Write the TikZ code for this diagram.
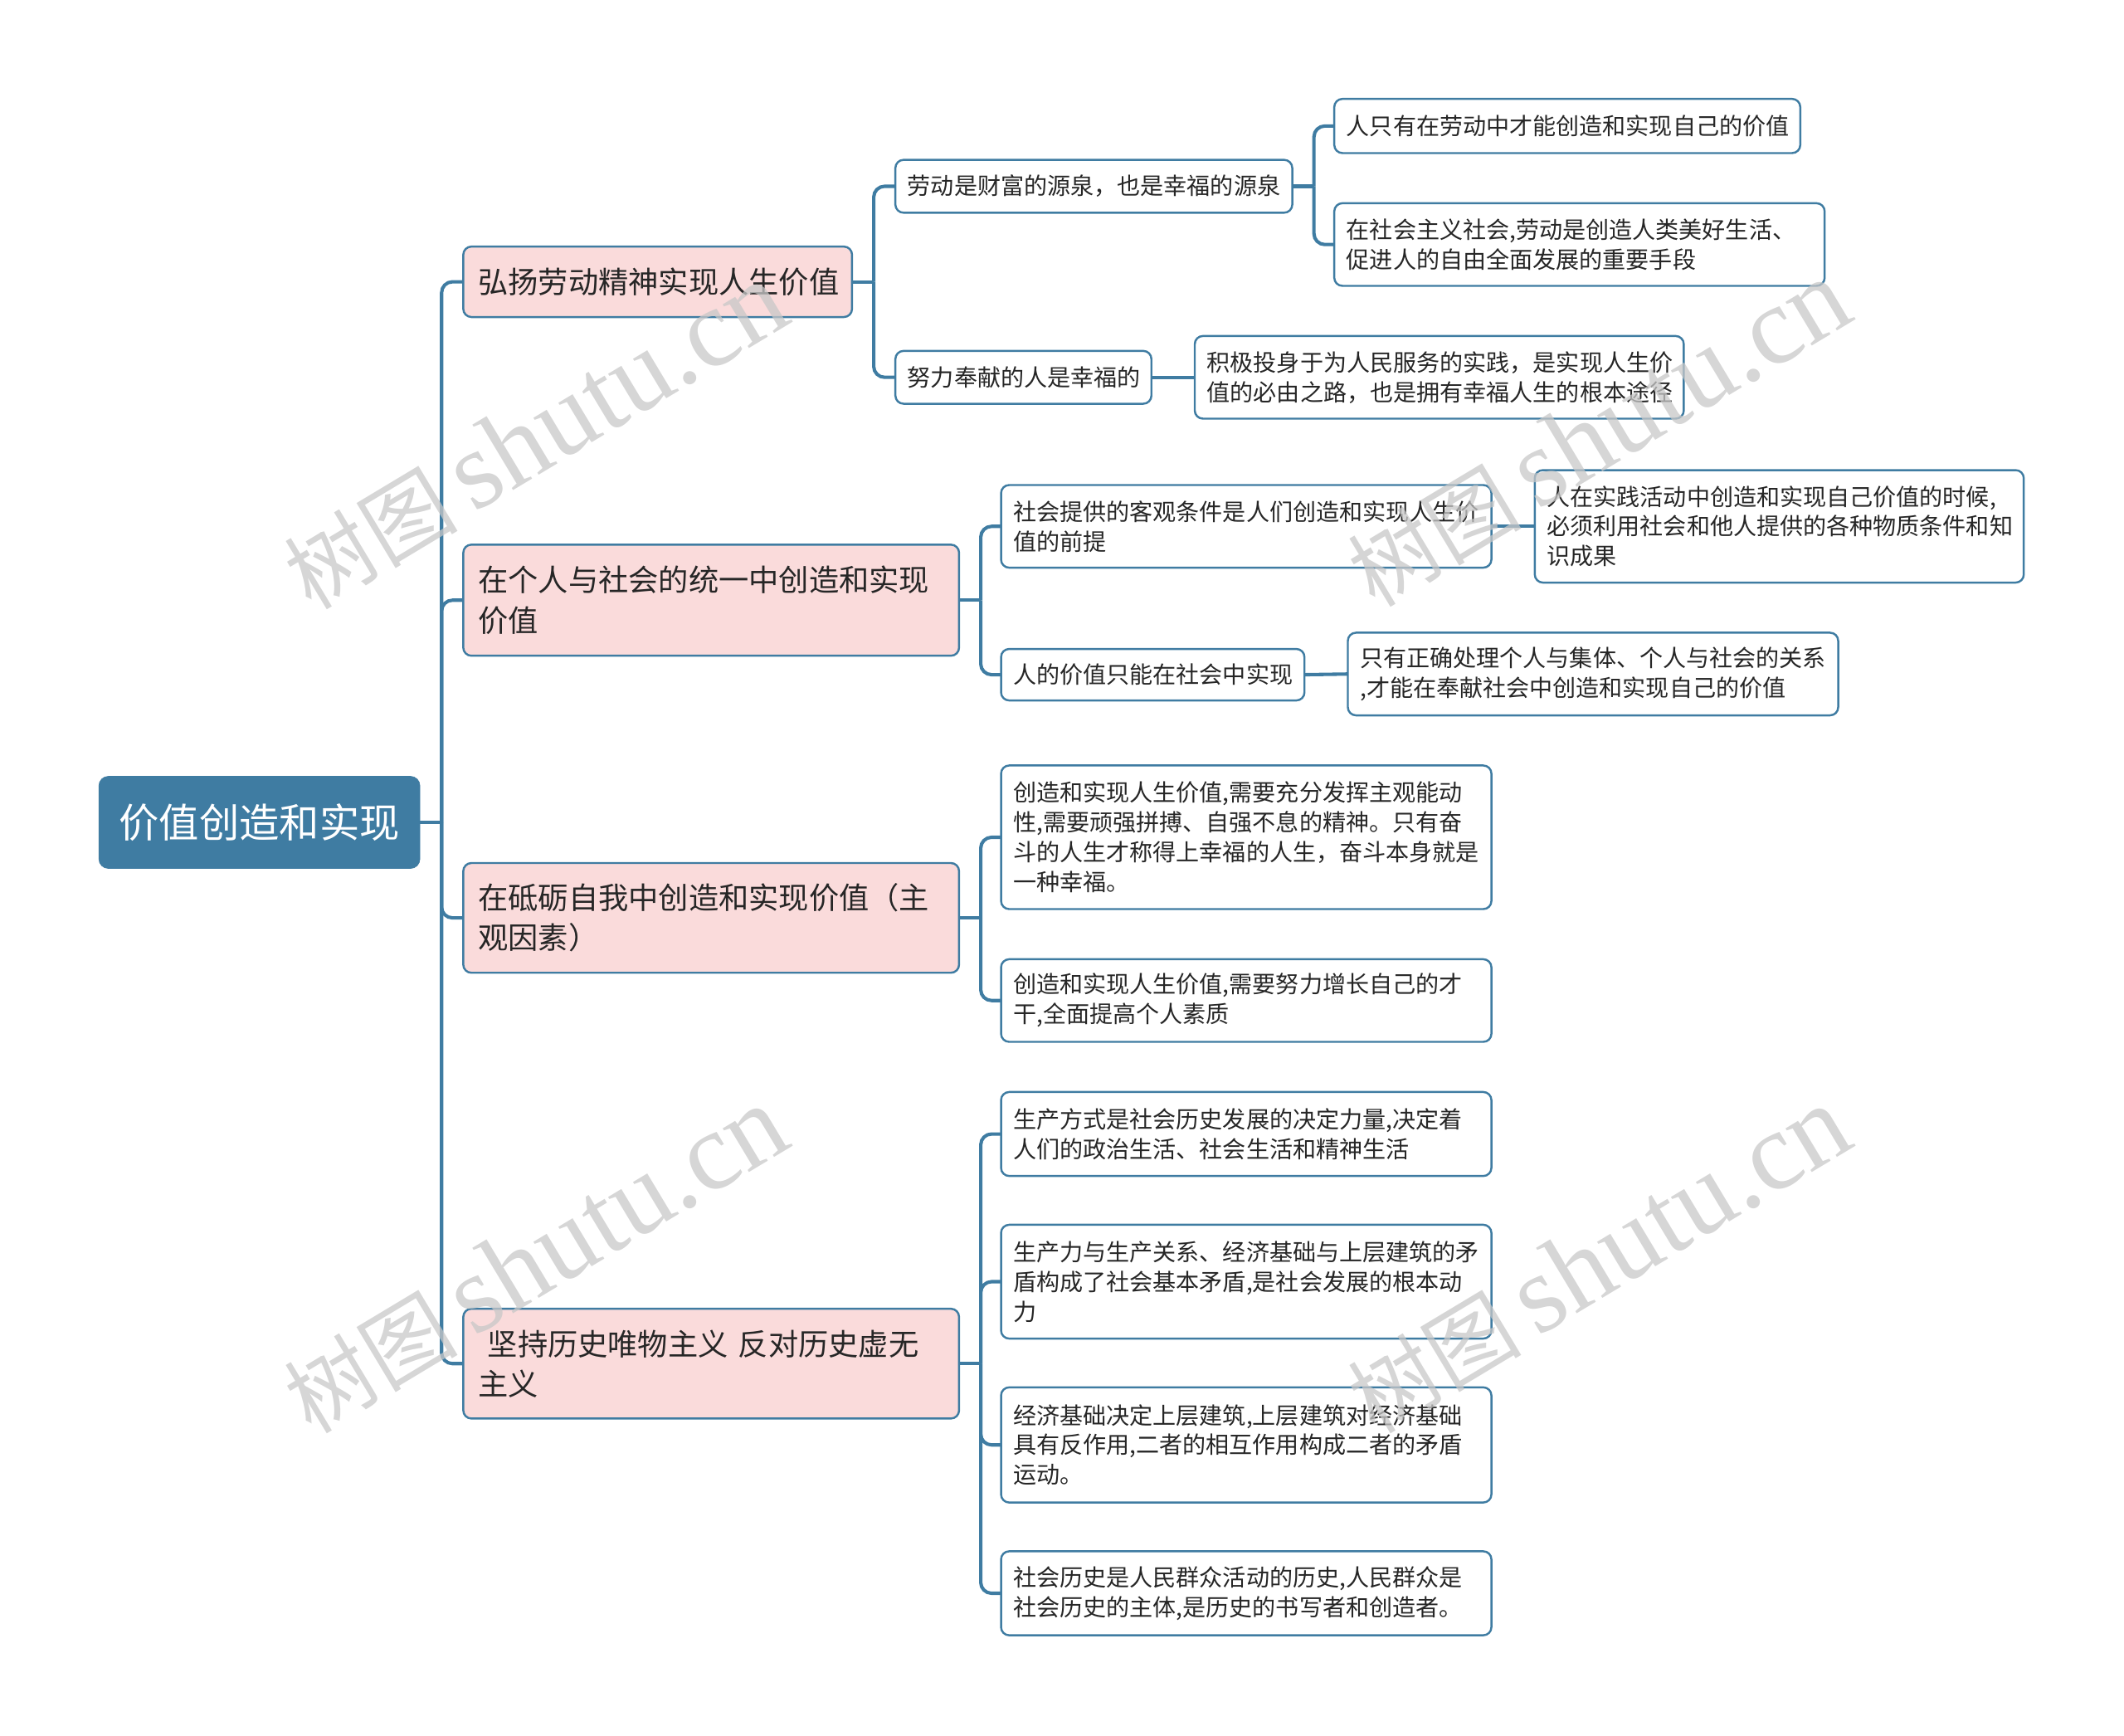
\documentclass[tikz,border=0pt]{standalone}
\usepackage{fontspec}
\setmainfont{Noto Sans CJK SC}
\newfontfamily\wmserif{Liberation Serif}
\newfontfamily\wmcjk{Noto Sans CJK SC}
\definecolor{mblue}{HTML}{3F7CA2}
\definecolor{mpink}{HTML}{FADBDB}
\definecolor{mtext}{HTML}{262626}
\definecolor{wmgray}{HTML}{C8C8C8}
\tikzset{
  basebox/.style={draw=mblue, line width=1.5pt, rounded corners=6pt, outer sep=0pt,
    anchor=west, align=left, text=mtext, inner xsep=9pt, inner ysep=0pt},
  rootbox/.style={fill=mblue, draw=mblue, rounded corners=7pt, outer sep=0pt, anchor=west,
    text=white, align=center, inner sep=0pt, font=\fontsize{29.6}{34}\selectfont},
  lone/.style={basebox, fill=mpink, inner xsep=11pt, font=\fontsize{22.2}{29.5}\selectfont},
  ltwo/.style={basebox, fill=white, font=\fontsize{17.2}{22}\selectfont},
  conn/.style={draw=mblue, line width=2.5pt, rounded corners=8pt},
  wm/.style={text=wmgray, opacity=0.75, rotate=31, inner sep=0pt},
}
\newcommand{\bx}[5]{\node[#1, minimum width=#2pt, text width=#2pt-#3pt, minimum height=#4pt] #5}
\begin{document}
\begin{tikzpicture}[x=1pt,y=-1pt]
\useasboundingbox (0,0) rectangle (1568,1281);
% root
\node[rootbox, minimum width=237pt, minimum height=68pt] (root) at (73,607) {价值创造和实现};
% level 1
\bx{lone}{287}{22}{52}{(L1a) at (342,208) {弘扬劳动精神实现人生价值};}
\bx{lone}{366}{22}{82}{(L1b) at (342,443) {在个人与社会的统一中创造和实现\\价值};}
\bx{lone}{366}{22}{81}{(L1c) at (342,677.5) {在砥砺自我中创造和实现价值（主\\观因素）};}
\bx{lone}{366}{22}{81}{(L1d) at (342,1006.5) {\hspace*{7pt}坚持历史唯物主义 反对历史虚无\\主义};}
% level 2
\bx{ltwo}{293}{18}{39}{(L2a1) at (661,137.5) {劳动是财富的源泉，也是幸福的源泉};}
\bx{ltwo}{189}{18}{39}{(L2a2) at (661,278.5) {努力奉献的人是幸福的};}
\bx{ltwo}{362}{18}{61}{(L2b1) at (739,388.5) {社会提供的客观条件是人们创造和实现人生价\\值的前提};}
\bx{ltwo}{224}{18}{38}{(L2b2) at (739,498) {人的价值只能在社会中实现};}
\bx{ltwo}{362}{18}{106}{(L2c1) at (739,618) {创造和实现人生价值,需要充分发挥主观能动\\性,需要顽强拼搏、自强不息的精神。只有奋\\斗的人生才称得上幸福的人生，奋斗本身就是\\一种幸福。};}
\bx{ltwo}{362}{18}{61}{(L2c2) at (739,738.5) {创造和实现人生价值,需要努力增长自己的才\\干,全面提高个人素质};}
\bx{ltwo}{362}{18}{62}{(L2d1) at (739,837) {生产方式是社会历史发展的决定力量,决定着\\人们的政治生活、社会生活和精神生活};}
\bx{ltwo}{362}{18}{84}{(L2d2) at (739,946) {生产力与生产关系、经济基础与上层建筑的矛\\盾构成了社会基本矛盾,是社会发展的根本动\\力};}
\bx{ltwo}{362}{18}{85}{(L2d3) at (739,1066.5) {经济基础决定上层建筑,上层建筑对经济基础\\具有反作用,二者的相互作用构成二者的矛盾\\运动。};}
\bx{ltwo}{362}{18}{62}{(L2d4) at (739,1176) {社会历史是人民群众活动的历史,人民群众是\\社会历史的主体,是历史的书写者和创造者。};}
% level 3
\bx{ltwo}{344}{18}{40}{(L3a) at (985,93) {人只有在劳动中才能创造和实现自己的价值};}
\bx{ltwo}{362}{18}{61}{(L3b) at (985,180.5) {在社会主义社会,劳动是创造人类美好生活、\\促进人的自由全面发展的重要手段};}
\bx{ltwo}{361}{18}{61}{(L3c) at (882,278.5) {积极投身于为人民服务的实践，是实现人生价\\值的必由之路，也是拥有幸福人生的根本途径};}
\bx{ltwo}{361}{18}{83}{(L3d) at (1133,388.5) {人在实践活动中创造和实现自己价值的时候,\\必须利用社会和他人提供的各种物质条件和知\\识成果};}
\bx{ltwo}{362}{18}{61}{(L3e) at (995,497.5) {只有正确处理个人与集体、个人与社会的关系\\,才能在奉献社会中创造和实现自己的价值};}
% trunk coordinates
\coordinate (t0) at (326,607);
\coordinate (t1) at (645,208);
\coordinate (t2) at (724,443);
\coordinate (t3) at (724,677.5);
\coordinate (t4) at (724,1006.5);
\coordinate (t5) at (970,137.5);
% connectors
\draw[conn] (root.east) -- (t0);
\foreach \c in {L1a,L1b,L1c,L1d} \draw[conn] (t0) |- (\c.west);
\draw[conn] (L1a.east) -- (t1);
\foreach \c in {L2a1,L2a2} \draw[conn] (t1) |- (\c.west);
\draw[conn] (L1b.east) -- (t2);
\foreach \c in {L2b1,L2b2} \draw[conn] (t2) |- (\c.west);
\draw[conn] (L1c.east) -- (t3);
\foreach \c in {L2c1,L2c2} \draw[conn] (t3) |- (\c.west);
\draw[conn] (L1d.east) -- (t4);
\foreach \c in {L2d1,L2d2,L2d3,L2d4} \draw[conn] (t4) |- (\c.west);
\draw[conn] (L2a1.east) -- (t5);
\foreach \c in {L3a,L3b} \draw[conn] (t5) |- (\c.west);
\draw[conn] (L2a2.east) -- (L3c.west);
\draw[conn] (L2b1.east) -- (L3d.west);
\draw[conn] (L2b2.east) -- (L3e.west);
% watermarks
\foreach \p in {(395,322),(1180,320),(395,930),(1180,930)}
  \node[wm] at \p {{\wmcjk\fontsize{64}{70}\selectfont 树图}\hspace{12pt}{\wmserif\fontsize{82}{90}\selectfont shutu.cn}};
\end{tikzpicture}
\end{document}
